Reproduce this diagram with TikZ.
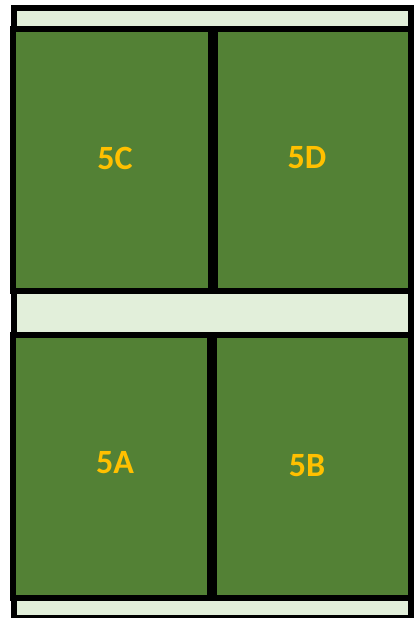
\documentclass[tikz,border=0pt]{standalone}
\usepackage{fontspec}
\setmainfont{Carlito}
\definecolor{darkgreen}{HTML}{538135}
\definecolor{lightgreen}{HTML}{E2EFDA}
\definecolor{gold}{HTML}{FFC000}
\tikzset{
  frame/.style={draw=black, line width=6pt, fill=lightgreen},
  plot/.style={draw=black, line width=6pt, fill=darkgreen},
  divider/.style={draw=black, line width=10pt},
  plotlabel/.style={text=gold, font=\bfseries\fontsize{34}{34}\selectfont, inner sep=0pt}
}
\begin{document}
\begin{tikzpicture}[x=1pt,y=-1pt]
\useasboundingbox (0,0) rectangle (417,618);
% outer frame
\path[frame] (14,8) rectangle (411,618);
% upper block
\path[plot] (13,29) rectangle (212,291);
\path[plot] (212,29) rectangle (411,291);
\draw[divider] (212.5,29) -- (212.5,291);
% lower block
\path[plot] (13,335) rectangle (212,598);
\path[plot] (212,335) rectangle (411,598);
\draw[divider] (212,335) -- (212,598);
% labels
\node[plotlabel] (c) at (115,158) {5C};
\node[plotlabel] (d) at (307,158) {5D};
\node[plotlabel] (a) at (115,463) {5A};
\node[plotlabel] (b) at (307,466) {5B};
\end{tikzpicture}
\end{document}
